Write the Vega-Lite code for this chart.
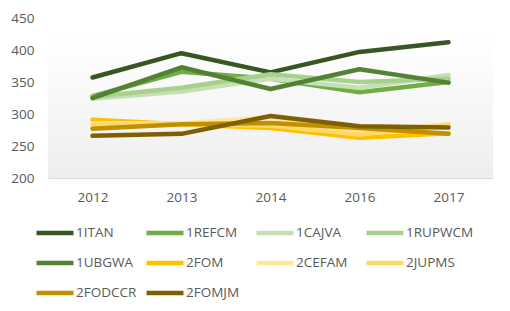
{
  "$schema": "https://vega.github.io/schema/vega-lite/v6.json",
  "width": 445,
  "height": 160,
  "autosize": {"type": "none"},
  "padding": {"left": 48, "top": 18, "right": 17, "bottom": 133},
  "background": "white",
  "config": {
    "view": {"stroke": null},
    "font": "Open Sans",
    "axis": {"labelColor": "#595959", "labelFontSize": 13.5, "titleColor": "#595959"}
  },
  "layer": [
    {
      "data": {"values": [{"bg": 1}]},
      "mark": {
        "type": "rect",
        "fill": {"gradient": "linear", "x1": 0, "y1": 0, "x2": 0, "y2": 1,
          "stops": [{"offset": 0.12, "color": "#ffffff"}, {"offset": 1, "color": "#eeeeee"}]}
      },
      "encoding": {}
    },
    {
      "data": {"values": [
        {"series": "1ITAN", "year": "2012", "value": 357}, {"series": "1ITAN", "year": "2013", "value": 395}, {"series": "1ITAN", "year": "2014", "value": 365}, {"series": "1ITAN", "year": "2016", "value": 397}, {"series": "1ITAN", "year": "2017", "value": 412},
        {"series": "1REFCM", "year": "2012", "value": 328}, {"series": "1REFCM", "year": "2013", "value": 366}, {"series": "1REFCM", "year": "2014", "value": 355}, {"series": "1REFCM", "year": "2016", "value": 334}, {"series": "1REFCM", "year": "2017", "value": 350},
        {"series": "1CAJVA", "year": "2012", "value": 324}, {"series": "1CAJVA", "year": "2013", "value": 335}, {"series": "1CAJVA", "year": "2014", "value": 355}, {"series": "1CAJVA", "year": "2016", "value": 341}, {"series": "1CAJVA", "year": "2017", "value": 361},
        {"series": "1RUPWCM", "year": "2012", "value": 327}, {"series": "1RUPWCM", "year": "2013", "value": 341}, {"series": "1RUPWCM", "year": "2014", "value": 362}, {"series": "1RUPWCM", "year": "2016", "value": 350}, {"series": "1RUPWCM", "year": "2017", "value": 355},
        {"series": "1UBGWA", "year": "2012", "value": 325}, {"series": "1UBGWA", "year": "2013", "value": 373}, {"series": "1UBGWA", "year": "2014", "value": 339}, {"series": "1UBGWA", "year": "2016", "value": 370}, {"series": "1UBGWA", "year": "2017", "value": 349},
        {"series": "2FOM", "year": "2012", "value": 291}, {"series": "2FOM", "year": "2013", "value": 284}, {"series": "2FOM", "year": "2014", "value": 278}, {"series": "2FOM", "year": "2016", "value": 263}, {"series": "2FOM", "year": "2017", "value": 270},
        {"series": "2CEFAM", "year": "2012", "value": 285}, {"series": "2CEFAM", "year": "2013", "value": 285}, {"series": "2CEFAM", "year": "2014", "value": 295}, {"series": "2CEFAM", "year": "2016", "value": 272}, {"series": "2CEFAM", "year": "2017", "value": 284},
        {"series": "2JUPMS", "year": "2012", "value": 283}, {"series": "2JUPMS", "year": "2013", "value": 284}, {"series": "2JUPMS", "year": "2014", "value": 282}, {"series": "2JUPMS", "year": "2016", "value": 268}, {"series": "2JUPMS", "year": "2017", "value": 283},
        {"series": "2FODCCR", "year": "2012", "value": 277}, {"series": "2FODCCR", "year": "2013", "value": 284}, {"series": "2FODCCR", "year": "2014", "value": 286}, {"series": "2FODCCR", "year": "2016", "value": 278}, {"series": "2FODCCR", "year": "2017", "value": 269},
        {"series": "2FOMJM", "year": "2012", "value": 266}, {"series": "2FOMJM", "year": "2013", "value": 269}, {"series": "2FOMJM", "year": "2014", "value": 297}, {"series": "2FOMJM", "year": "2016", "value": 281}, {"series": "2FOMJM", "year": "2017", "value": 279}
      ]},
      "mark": {"type": "line", "strokeWidth": 4.5, "strokeCap": "round", "strokeJoin": "round"},
      "encoding": {
        "x": {
          "field": "year", "type": "ordinal", "title": null,
          "scale": {"type": "point", "padding": 0.5},
          "axis": {"labelAngle": 0, "grid": true, "gridColor": "#d9d9d9", "domainColor": "#d9d9d9", "ticks": false, "labelPadding": 12}
        },
        "y": {
          "field": "value", "type": "quantitative", "title": null,
          "scale": {"domain": [200, 450], "nice": false, "zero": false},
          "axis": {"values": [200, 250, 300, 350, 400, 450], "grid": false, "domain": false, "ticks": false, "labelPadding": 14}
        },
        "color": {
          "field": "series", "type": "nominal",
          "scale": {
            "domain": ["1ITAN", "1REFCM", "1CAJVA", "1RUPWCM", "1UBGWA", "2FOM", "2CEFAM", "2JUPMS", "2FODCCR", "2FOMJM"],
            "range": ["#375623", "#70AD47", "#C5E0B4", "#A9D18E", "#548235", "#FFC000", "#FFE699", "#FFD966", "#BF9000", "#7F6000"]
          },
          "legend": {
            "title": null, "orient": "none", "direction": "horizontal", "columns": 4,
            "legendX": -14, "legendY": 194, "gridAlign": "all",
            "symbolType": "stroke", "symbolSize": 1369, "symbolStrokeWidth": 4.5,
            "labelFontSize": 13.5, "labelColor": "#595959", "labelOffset": 0,
            "columnPadding": -8, "rowPadding": -9.5
          }
        }
      }
    }
  ]
}
